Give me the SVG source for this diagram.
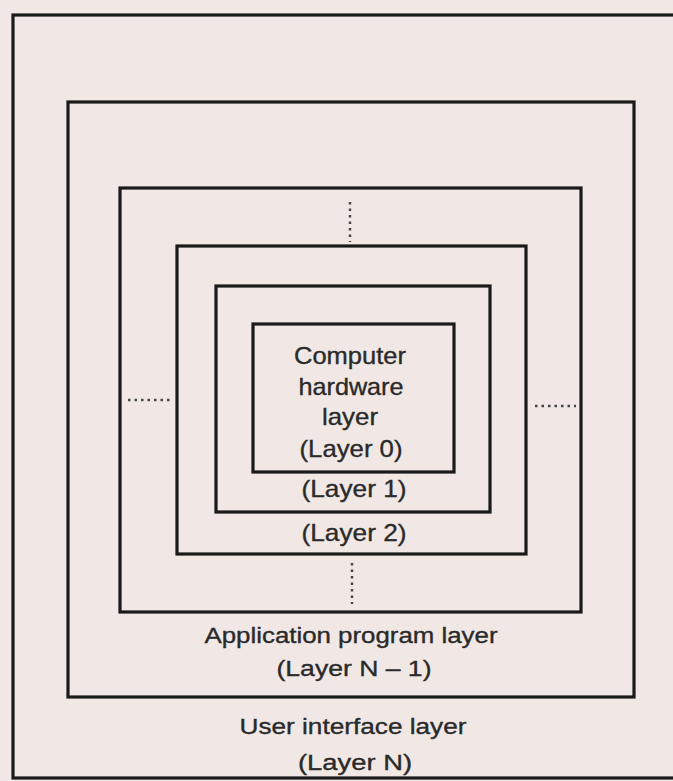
<svg xmlns="http://www.w3.org/2000/svg" width="673" height="781" viewBox="0 0 673 781">
  <style>
    .box { fill: none; stroke: #1a1a1a; stroke-width: 3.2; }
    .lbl { font-family: "Liberation Sans", Arial, sans-serif; fill: #2a2a2a; stroke: #2a2a2a; stroke-width: 0.35; text-anchor: middle; }
    .in { font-size: 24px; }
    .out { font-size: 22px; }
    .dots { stroke: #444; stroke-width: 2.4; stroke-dasharray: 2.5 4; fill: none; }
  </style>
  <rect x="0" y="0" width="673" height="781" fill="#f1e8e5"/>
  <g id="layerN">
    <rect x="13" y="15" width="680" height="763" fill="#f6efec" class="box"/>
    <text class="lbl out" x="353" y="734" textLength="227" lengthAdjust="spacingAndGlyphs">User interface layer</text>
    <text class="lbl out" x="355" y="770" textLength="114" lengthAdjust="spacingAndGlyphs">(Layer N)</text>
  </g>
  <g id="layerN-1">
    <rect x="68" y="102" width="566" height="595" fill="#fbf9f7" class="box"/>
    <text class="lbl out" x="351" y="643" textLength="293" lengthAdjust="spacingAndGlyphs">Application program layer</text>
    <text class="lbl out" x="354" y="676" textLength="155" lengthAdjust="spacingAndGlyphs">(Layer N – 1)</text>
  </g>
  <g id="layer-mid">
    <rect x="120" y="188" width="461" height="424" class="box"/>
  </g>
  <g id="layer2">
    <rect x="177" y="246" width="349" height="308" class="box"/>
    <text class="lbl in" x="354" y="541" textLength="105" lengthAdjust="spacingAndGlyphs">(Layer 2)</text>
  </g>
  <g id="layer1">
    <rect x="216" y="286" width="274" height="226" class="box"/>
    <text class="lbl in" x="354" y="497" textLength="105" lengthAdjust="spacingAndGlyphs">(Layer 1)</text>
  </g>
  <g id="layer0">
    <rect x="253" y="324" width="201" height="148" class="box"/>
    <text class="lbl in" x="350" y="364" textLength="112" lengthAdjust="spacingAndGlyphs">Computer</text>
    <text class="lbl in" x="351" y="395" textLength="105" lengthAdjust="spacingAndGlyphs">hardware</text>
    <text class="lbl in" x="350" y="425" textLength="56" lengthAdjust="spacingAndGlyphs">layer</text>
    <text class="lbl in" x="351" y="457" textLength="103" lengthAdjust="spacingAndGlyphs">(Layer 0)</text>
  </g>
  <g id="connectors">
    <line class="dots" x1="350" y1="202" x2="350" y2="242"/>
    <line class="dots" x1="352" y1="563" x2="352" y2="604"/>
    <line class="dots" x1="128" y1="400" x2="170" y2="400"/>
    <line class="dots" x1="535" y1="406" x2="576" y2="406"/>
  </g>
</svg>
